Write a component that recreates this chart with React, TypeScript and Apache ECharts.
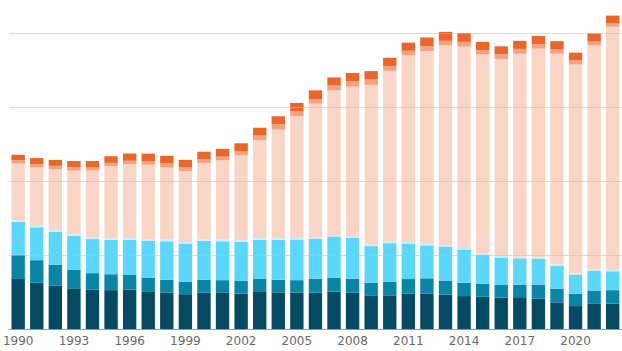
import React, { useEffect, useRef } from "react";
import * as echarts from "echarts";

const years = Array.from({ length: 33 }, (_, i) => String(1990 + i));

const navy = [13.5, 12.5, 11.7, 11.0, 10.7, 10.5, 10.6, 10.2, 9.8, 9.4, 9.8, 9.9, 9.6, 10.0, 9.9, 9.8, 9.8, 10.1, 9.8, 9.1, 9.1, 9.6, 9.6, 9.3, 8.9, 8.7, 8.5, 8.6, 8.2, 7.2, 6.2, 6.8, 6.9];
const teal = [6.6, 6.1, 5.7, 5.0, 4.4, 4.3, 4.0, 3.7, 3.5, 3.4, 3.5, 3.3, 3.4, 3.6, 3.4, 3.4, 3.8, 3.8, 3.8, 3.4, 3.7, 3.9, 4.1, 3.8, 3.6, 3.5, 3.4, 3.4, 3.8, 3.7, 3.3, 3.6, 3.6];
const cyan = [8.8, 8.9, 8.9, 9.2, 9.2, 9.3, 9.5, 10.0, 10.4, 10.3, 10.5, 10.5, 10.6, 10.5, 10.8, 11.0, 10.8, 11.1, 11.0, 9.9, 10.4, 9.6, 8.9, 9.2, 9.0, 7.9, 7.4, 7.1, 7.0, 6.1, 5.1, 5.3, 5.1];
const paleCyan = [0.4, 0.4, 0.4, 0.4, 0.4, 0.4, 0.4, 0.4, 0.4, 0.4, 0.4, 0.4, 0.4, 0.4, 0.4, 0.4, 0.4, 0.4, 0.4, 0.4, 0.4, 0.4, 0.4, 0.4, 0.4, 0.4, 0.4, 0.4, 0.4, 0.4, 0.4, 0.4, 0.4];
const peach = [15.4, 15.8, 16.5, 17.2, 18.1, 19.5, 20.1, 20.1, 19.6, 19.2, 20.7, 21.5, 23.0, 26.5, 29.4, 32.9, 36.1, 39.1, 40.5, 43.2, 46.2, 50.5, 52.1, 54.0, 54.4, 53.7, 53.3, 54.9, 56.4, 57.0, 56.5, 60.6, 65.7];
const salmon = [1.0, 0.9, 0.9, 0.9, 0.9, 0.9, 0.9, 1.0, 1.1, 1.0, 1.0, 1.0, 1.0, 1.3, 1.4, 1.4, 1.2, 1.3, 1.5, 1.5, 1.3, 1.2, 1.3, 1.2, 1.3, 1.2, 1.3, 1.3, 1.2, 1.2, 1.1, 1.0, 0.9];
const orange = [1.4, 1.6, 1.6, 1.7, 1.7, 1.8, 1.9, 2.0, 2.0, 2.0, 2.0, 2.1, 2.2, 2.1, 2.2, 2.2, 2.4, 2.2, 2.2, 2.2, 2.2, 2.2, 2.4, 2.4, 2.4, 2.2, 2.1, 2.2, 2.2, 2.2, 2.1, 2.2, 2.1];

const layers = [
  { name: "A", data: navy, color: "#044a62" },
  { name: "B", data: teal, color: "#0986a6" },
  { name: "C", data: cyan, color: "#5ad7fa" },
  { name: "D", data: paleCyan, color: "#c4f0fd" },
  { name: "E", data: peach, color: "#f9d5c6" },
  { name: "F", data: salmon, color: "#f4a27f" },
  { name: "G", data: orange, color: "#eb662b" },
];

export default function App() {
  const ref = useRef<HTMLDivElement>(null);
  useEffect(() => {
    if (!ref.current) return;
    const chart = echarts.init(ref.current, null, { renderer: "svg" });
    chart.setOption({
      animation: false,
      grid: { left: 5.6, right: -3.4, top: 0, bottom: 22, containLabel: false },
      xAxis: {
        type: "category",
        data: years,
        axisLine: { lineStyle: { color: "#999", width: 1 } },
        axisTick: { interval: 2, length: 4, lineStyle: { color: "#999" } },
        axisLabel: {
          interval: 2,
          color: "#6a6a6a",
          fontSize: 12,
          fontFamily: "DejaVu Sans",
          margin: 6,
        },
      },
      yAxis: {
        type: "value",
        min: 0,
        max: 88.92,
        interval: 20,
        z: 5,
        axisLabel: { show: false },
        axisLine: { show: false },
        axisTick: { show: false },
        splitLine: {
          showMaxLine: false,
          showMinLine: false,
          lineStyle: { color: "rgba(190,190,190,0.55)", width: 1 },
        },
      },
      series: layers.map((l) => ({
        name: l.name,
        type: "bar",
        stack: "total",
        data: l.data,
        barCategoryGap: "28%",
        itemStyle: { color: l.color },
        emphasis: { disabled: true },
      })),
    });
    return () => chart.dispose();
  }, []);
  return <div ref={ref} style={{ width: 622, height: 351, position: "absolute", left: 0, top: 0 }} />;
}
